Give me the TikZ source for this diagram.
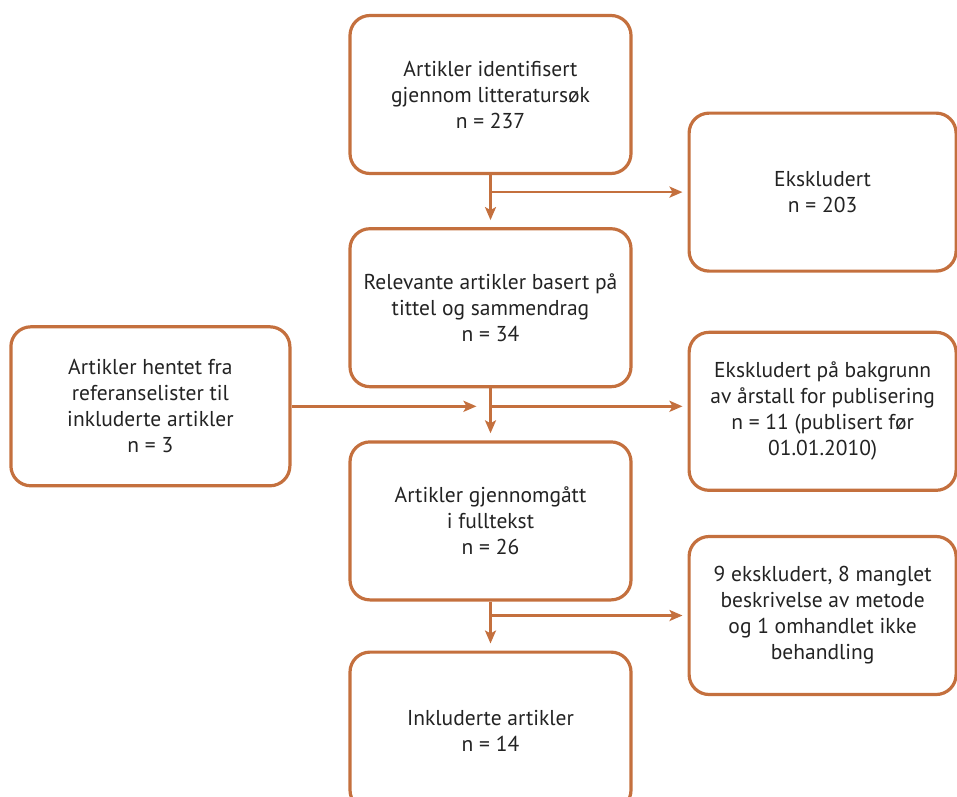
\documentclass[tikz,border=0pt]{standalone}
\usepackage{fontspec}
\setmainfont{PT Sans}
\usetikzlibrary{positioning}
\usetikzlibrary{arrows.meta}
\usetikzlibrary{calc}
\definecolor{flowline}{RGB}{196,112,62}
\definecolor{flowtext}{RGB}{35,35,35}
\tikzset{%
	% Specifications for style of nodes:
	base/.style = {rectangle, rounded corners=20pt, draw=flowline,
		line width=3.2pt, inner sep=6pt,
		text centered, text=flowtext, font=\fontsize{21.5pt}{26pt}\selectfont},
	mainstep/.style = {base, minimum width=281pt, minimum height=158pt},
	sidestep/.style = {base, minimum width=267pt, minimum height=158pt},
	leftstep/.style = {base, minimum width=279pt, minimum height=159pt},
	flow/.style = {draw=flowline, line width=2.6pt,
		-{Stealth[length=13pt, width=11pt, inset=3pt]}},
}
\begin{document}
\begin{tikzpicture}[x=1pt, y=1pt, node distance=52pt, align=center]
	\useasboundingbox (0,0) rectangle (957,-796);
	
	\node (found) [mainstep] at (490.5,-94.5) {Artikler identifisert\\gjennom litteratursøk\\n = 237};
	\node (relevant) [mainstep, below=52pt of found] {Relevante artikler basert på\\tittel og sammendrag\\n = 34};
	\node (fulltext) [mainstep, below=52pt of relevant] {Artikler gjennomgått\\i fulltekst\\n = 26};
	\node (included) [mainstep, below=49pt of fulltext] {Inkluderte artikler\\n = 14};
	
	% branch points on the main line
	\coordinate (split1) at ($(found.south)+(0,-17)$);
	\coordinate (split2) at ($(relevant.south)+(0,-18)$);
	\coordinate (split3) at ($(fulltext.south)+(0,-14)$);
	
	\node (excl1) [sidestep, right=197pt of split1] {Ekskludert\\n = 203};
	\node (excl2) [sidestep, right=197pt of split2, yshift=-5pt] {Ekskludert på bakgrunn\\av årstall for publisering\\n = 11 (publisert før\\01.01.2010)};
	\node (excl3) [sidestep, right=197pt of split3] {9 ekskludert, 8 manglet\\beskrivelse av metode\\og 1 omhandlet ikke\\behandling};
	\node (refs) [leftstep, left=199pt of split2] {Artikler hentet fra\\referanselister til\\inkluderte artikler\\n = 3};
	
	\draw [flow, shorten >=7pt] (found) -- (relevant);
	\draw [flow, shorten >=7pt] (relevant) -- (fulltext);
	\draw [flow, shorten >=7pt] (fulltext) -- (included);
	
	\draw [flow, shorten >=5pt] (split1) -- (excl1);
	\draw [flow, shorten >=5pt] (split2) -- (split2 -| excl2.west);
	\draw [flow, shorten >=5pt] (split3) -- (excl3);
	
	\coordinate (merge) at ($(split2)+(-14,0)$);
	\draw [flow] (refs) -- (merge);
\end{tikzpicture}
\end{document}
